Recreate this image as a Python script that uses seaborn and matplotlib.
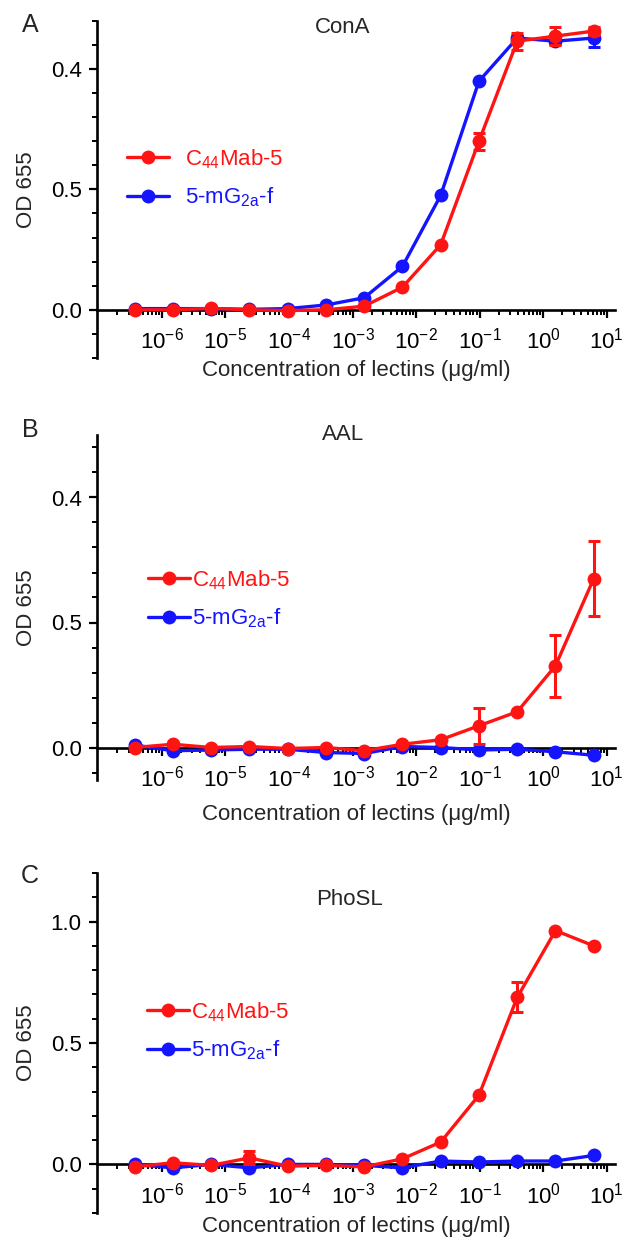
import matplotlib

matplotlib.use("Agg")
import matplotlib.pyplot as plt
import numpy as np
import pandas as pd
import seaborn as sns
from matplotlib.ticker import FixedLocator, LogLocator, NullFormatter

# lectin concentrations (ug/ml), 4-fold dilution from 6.25
conc = [6.25 / 4 ** k for k in range(12, -1, -1)]

panels = ["A", "B", "C"]
lectins = ["ConA", "AAL", "PhoSL"]
ytick_labels = [["0.0", "0.5", "0.4"], ["0.0", "0.5", "0.4"], ["0.0", "0.5", "1.0"]]
ylims = [(-0.2, 1.2), (-0.13, 1.25), (-0.2, 1.2)]

cona_c44 = [0, 0, 0.006, 0, -0.003, 0, 0.015, 0.094, 0.27, 0.70, 1.115, 1.136, 1.157]
cona_c44_sd = [0, 0, 0, 0, 0, 0, 0, 0, 0, 0.035, 0.036, 0.036, 0.015]
cona_mg = [0.005, 0.005, 0.005, 0.002, 0.005, 0.02, 0.05, 0.18, 0.475, 0.949, 1.128, 1.115, 1.128]
cona_mg_sd = [0, 0, 0, 0, 0, 0, 0, 0, 0, 0, 0.01, 0.01, 0.038]

aal_c44 = [0, 0.013, 0, 0.004, -0.004, 0, -0.013, 0.013, 0.031, 0.087, 0.143, 0.327, 0.676]
aal_c44_sd = [0, 0, 0, 0, 0, 0, 0, 0, 0, 0.073, 0, 0.125, 0.149]
aal_mg = [0.01, -0.013, -0.01, -0.007, -0.007, -0.02, -0.024, 0.004, 0, -0.01, -0.007, -0.017, -0.031]
aal_mg_sd = [0] * 13

phosl_c44 = [-0.01, 0.007, -0.004, 0.027, -0.007, -0.004, -0.01, 0.023, 0.092, 0.285, 0.688, 0.963, 0.90]
phosl_c44_sd = [0, 0, 0, 0.027, 0, 0, 0, 0, 0, 0, 0.062, 0, 0]
phosl_mg = [0, -0.014, 0, -0.014, 0, 0, -0.004, -0.014, 0.014, 0.01, 0.014, 0.014, 0.037]
phosl_mg_sd = [0] * 13

series = [
    (cona_c44, cona_c44_sd, cona_mg, cona_mg_sd),
    (aal_c44, aal_c44_sd, aal_mg, aal_mg_sd),
    (phosl_c44, phosl_c44_sd, phosl_mg, phosl_mg_sd),
]

RED = "#ff1414"
BLUE = "#1414ff"
C44 = "C$_{44}$Mab-5"
MG = "5-mG$_{2a}$-f"

sns.set_theme(style="ticks")
plt.rcParams["font.family"] = ["Liberation Sans", "DejaVu Sans"]
plt.rcParams["mathtext.fontset"] = "custom"
plt.rcParams["mathtext.rm"] = "Liberation Sans"
plt.rcParams["mathtext.it"] = "Liberation Sans:italic"
plt.rcParams["mathtext.default"] = "regular"

FS = 16
W, H = 624, 1238
fig = plt.figure(figsize=(W / 100, H / 100), dpi=100)

# axes boxes in pixels: (top, bottom)
boxes = [(20.7, 358), (435, 780), (873, 1213)]
left_px, right_px = 97, 615
xlab_y = [-0.036, -0.101, -0.041]
title_y = [27.5, 435, 899.5]
title_x = [343, 343, 350]
letter_y = [25, 430, 876]
leg_anchor = [(127, 147), (148, 568), (147, 1000)]
leg_pad = [0.7, 0.1, 0.1]

for i in range(3):
    top, bot = boxes[i]
    ax = fig.add_axes([left_px / W, 1 - bot / H, (right_px - left_px) / W, (bot - top) / H])
    c44, c44_sd, mg, mg_sd = series[i]
    df = pd.DataFrame(
        {
            "conc": conc * 2,
            "od": mg + c44,
            "sd": mg_sd + c44_sd,
            "ab": [MG] * 13 + [C44] * 13,
        }
    )
    sns.lineplot(data=df, x="conc", y="od", hue="ab", hue_order=[MG, C44],
                 palette=[BLUE, RED], marker="o", markersize=10, markeredgewidth=0,
                 linewidth=2.4, ax=ax, legend=False)
    blue_line, red_line = ax.lines[0], ax.lines[1]
    blue_line.set_zorder(3)
    red_line.set_zorder(5)
    for ab, col, z in [(MG, BLUE, 3), (C44, RED, 5)]:
        sub = df[df["ab"] == ab]
        ax.errorbar(sub["conc"], sub["od"], yerr=sub["sd"], fmt="none", ecolor=col,
                    elinewidth=2.2, capsize=4.5, capthick=2.2, zorder=z)

    ax.set_xscale("log")
    ax.set_xlim(10 ** -7.02, 10 ** 1.13)
    ax.set_ylim(*ylims[i])
    ax.xaxis.set_major_locator(FixedLocator([10.0 ** e for e in range(-6, 2)]))
    ax.xaxis.set_minor_locator(LogLocator(base=10, subs=np.arange(2, 10), numticks=20))
    ax.xaxis.set_minor_formatter(NullFormatter())
    ax.yaxis.set_major_locator(FixedLocator([0, 0.5, 1.0]))
    ax.set_yticklabels(ytick_labels[i])
    ax.yaxis.set_minor_locator(FixedLocator(np.arange(-0.2, 1.26, 0.1)))

    ax.spines["bottom"].set_position(("data", 0))
    ax.spines["top"].set_visible(False)
    ax.spines["right"].set_visible(False)
    for s in ["left", "bottom"]:
        ax.spines[s].set_linewidth(1.9)
        ax.spines[s].set_color("black")
    ax.tick_params(which="major", length=6, width=1.6, labelsize=FS, colors="black")
    ax.tick_params(which="minor", length=3.5, width=1.4, colors="black")
    ax.tick_params(axis="x", which="major", pad=7)
    ax.tick_params(axis="y", which="major", pad=5)

    ax.set_xlabel("Concentration of lectins (\u03bcg/ml)", fontsize=FS)
    ax.xaxis.set_label_coords(0.5, xlab_y[i])
    ax.xaxis.label.set_va("center")
    ax.set_ylabel("OD 655", fontsize=FS)
    ax.yaxis.set_label_coords((26 - left_px) / (right_px - left_px), 0.5)
    ax.yaxis.label.set_va("center")

    fig.text(title_x[i] / W, 1 - title_y[i] / H, lectins[i], fontsize=FS,
             ha="center", va="center")
    fig.text(30 / W, 1 - letter_y[i] / H, panels[i], fontsize=18,
             ha="center", va="center")

    leg = ax.legend([red_line, blue_line], [C44, MG], loc="upper left", frameon=False,
                    fontsize=FS, bbox_to_anchor=(leg_anchor[i][0] / W, 1 - leg_anchor[i][1] / H),
                    bbox_transform=fig.transFigure, borderaxespad=0, borderpad=0,
                    handlelength=1.9, handletextpad=leg_pad[i], labelspacing=0.68)
    for t, col in zip(leg.get_texts(), [RED, BLUE]):
        t.set_color(col)

fig.savefig("out.png", dpi=100)
